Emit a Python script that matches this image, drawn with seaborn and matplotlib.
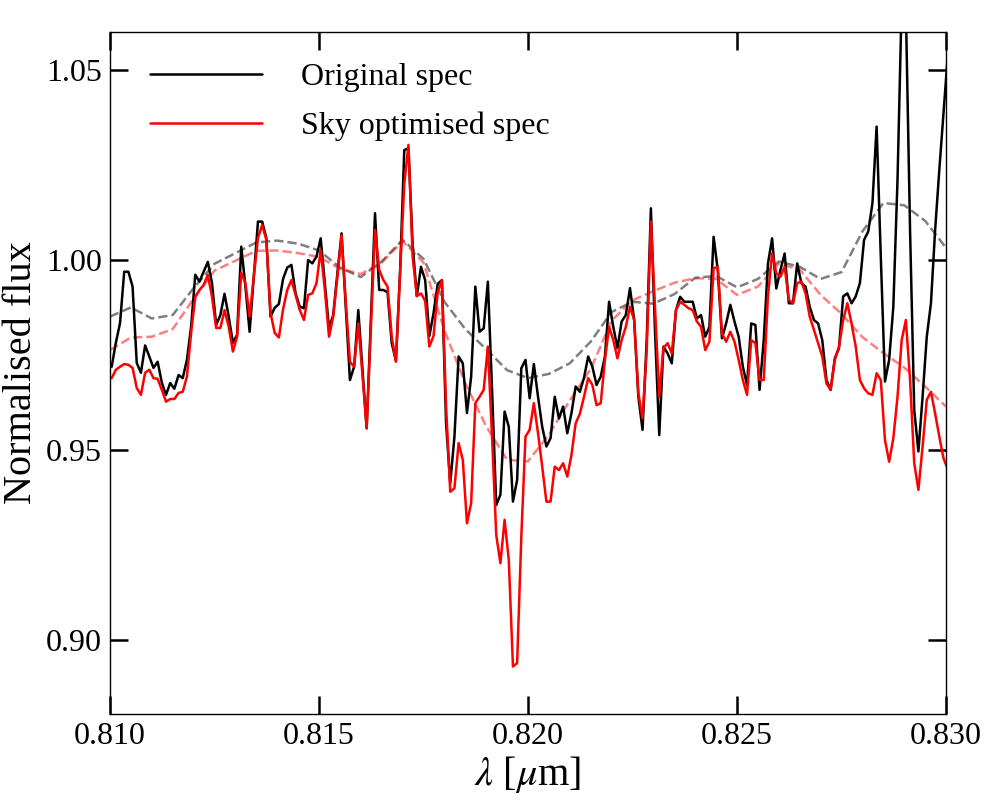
import numpy as np
import pandas as pd
import matplotlib
matplotlib.use("Agg")
import matplotlib.pyplot as plt
import seaborn as sns
from matplotlib.lines import Line2D

# ---------------- data ----------------
wl_start = 0.81004
wl_step = 0.0001

orig_flux = [
    0.9719, 0.9782, 0.9834, 0.9969, 0.9969, 0.9930, 0.9729, 0.9703, 0.9775, 0.9746,
    0.9716, 0.9732, 0.9677, 0.9645, 0.9676, 0.9661, 0.9697, 0.9689, 0.9737, 0.9824,
    0.9961, 0.9943, 0.9969, 0.9995, 0.9939, 0.9829, 0.9855, 0.9911, 0.9851, 0.9782,
    0.9803, 1.0035, 0.9930, 0.9811, 0.9956, 1.0101, 1.0101, 1.0058, 0.9851, 0.9874,
    0.9884, 0.9950, 0.9980, 0.9987, 0.9912, 0.9877, 0.9873, 1.0000, 0.9991, 1.0009,
    1.0057, 0.9939, 0.9820, 0.9855, 0.9965, 1.0070, 0.9877, 0.9684, 0.9719, 0.9868,
    0.9711, 0.9557, 0.9842, 1.0123, 0.9921, 0.9921, 0.9915, 0.9781, 0.9735, 0.9970,
    1.0289, 1.0294, 1.0040, 0.9905, 0.9982, 0.9947, 0.9800, 0.9860, 0.9937, 0.9947,
    0.9570, 0.9412, 0.9535, 0.9746, 0.9728, 0.9597, 0.9693, 0.9930, 0.9811, 0.9820,
    0.9943, 0.9658, 0.9355, 0.9382, 0.9601, 0.9561, 0.9364, 0.9421, 0.9715, 0.9737,
    0.9636, 0.9726, 0.9640, 0.9561, 0.9509, 0.9531, 0.9640, 0.9583, 0.9614, 0.9544,
    0.9597, 0.9667, 0.9653, 0.9690, 0.9746, 0.9719, 0.9671, 0.9693, 0.9746, 0.9890,
    0.9824, 0.9768, 0.9838, 0.9855, 0.9926, 0.9842, 0.9640, 0.9553, 0.9789, 1.0136,
    0.9807, 0.9539, 0.9772, 0.9754, 0.9728, 0.9868, 0.9903, 0.9890, 0.9890, 0.9890,
    0.9846, 0.9855, 0.9798, 0.9824, 1.0061, 0.9974, 0.9794, 0.9833, 0.9882, 0.9838,
    0.9798, 0.9719, 0.9671, 0.9833, 0.9829, 0.9658, 0.9790, 0.9990, 1.0057, 0.9925,
    0.9974, 1.0017, 0.9886, 0.9886, 0.9991, 0.9939, 0.9930, 0.9877, 0.9842, 0.9833,
    0.9789, 0.9684, 0.9658, 0.9741, 0.9768, 0.9904, 0.9912, 0.9886, 0.9904, 0.9939,
    1.0053, 1.0075, 1.0149, 1.0351, 1.0009, 0.9680, 0.9737, 0.9877, 1.0211, 1.0680,
    1.0660, 1.0079, 0.9605, 0.9496, 0.9640, 0.9798, 0.9886, 1.0079, 1.0237, 1.0386,
    1.0535,
]

sky_flux = [
    0.9689, 0.9711, 0.9719, 0.9726, 0.9724, 0.9716, 0.9663, 0.9645, 0.9703, 0.9711,
    0.9689, 0.9687, 0.9658, 0.9627, 0.9634, 0.9634, 0.9650, 0.9653, 0.9693, 0.9808,
    0.9903, 0.9921, 0.9934, 0.9961, 0.9903, 0.9821, 0.9821, 0.9868, 0.9824, 0.9759,
    0.9798, 0.9966, 0.9939, 0.9851, 0.9956, 1.0058, 1.0092, 1.0053, 0.9861, 0.9808,
    0.9796, 0.9870, 0.9921, 0.9947, 0.9908, 0.9868, 0.9842, 0.9908, 0.9912, 0.9939,
    1.0026, 0.9921, 0.9798, 0.9851, 0.9956, 1.0065, 0.9890, 0.9732, 0.9719, 0.9833,
    0.9697, 0.9557, 0.9816, 1.0079, 0.9974, 0.9947, 0.9930, 0.9798, 0.9732, 0.9965,
    1.0200, 1.0303, 1.0009, 0.9905, 0.9912, 0.9892, 0.9772, 0.9800, 0.9915, 0.9947,
    0.9614, 0.9390, 0.9399, 0.9518, 0.9474, 0.9307, 0.9360, 0.9623, 0.9640, 0.9658,
    0.9772, 0.9535, 0.9276, 0.9202, 0.9316, 0.9211, 0.8930, 0.8939, 0.9272, 0.9535,
    0.9553, 0.9623, 0.9544, 0.9456, 0.9364, 0.9364, 0.9456, 0.9447, 0.9465, 0.9430,
    0.9487, 0.9570, 0.9595, 0.9640, 0.9689, 0.9671, 0.9618, 0.9623, 0.9737, 0.9824,
    0.9789, 0.9741, 0.9789, 0.9824, 0.9877, 0.9842, 0.9649, 0.9583, 0.9763, 1.0101,
    0.9868, 0.9640, 0.9768, 0.9781, 0.9754, 0.9868, 0.9890, 0.9882, 0.9873, 0.9868,
    0.9838, 0.9824, 0.9763, 0.9785, 0.9978, 0.9982, 0.9807, 0.9785, 0.9811, 0.9785,
    0.9737, 0.9684, 0.9645, 0.9789, 0.9781, 0.9684, 0.9684, 0.9904, 1.0017, 0.9965,
    0.9956, 0.9982, 0.9895, 0.9886, 0.9939, 0.9943, 0.9912, 0.9851, 0.9816, 0.9781,
    0.9746, 0.9675, 0.9658, 0.9737, 0.9772, 0.9842, 0.9886, 0.9833, 0.9772, 0.9684,
    0.9662, 0.9649, 0.9645, 0.9702, 0.9684, 0.9526, 0.9469, 0.9531, 0.9640, 0.9789,
    0.9842, 0.9684, 0.9465, 0.9395, 0.9509, 0.9632, 0.9653, 0.9596, 0.9535, 0.9478,
    0.9450,
]

# smoothed continua (dashed), sampled every 0.0005 um from 0.810 to 0.830
cont_start = 0.810
cont_step = 0.0005
orig_cont = [
    0.9851, 0.9875, 0.9846, 0.9855, 0.9926, 0.9990, 1.0018, 1.0046, 1.0051, 1.0043,
    1.0025, 0.9980, 0.9955, 0.9996, 1.0053, 1.0003, 0.9890, 0.9818, 0.9765, 0.9710,
    0.9689, 0.9700, 0.9728, 0.9785, 0.9863, 0.9890, 0.9885, 0.9910, 0.9953, 0.9958,
    0.9928, 0.9950, 0.9996, 0.9982, 0.9950, 0.9968, 1.0075, 1.0150, 1.0144, 1.0103,
    1.0032,
]
sky_cont = [
    0.9763, 0.9796, 0.9798, 0.9818, 0.9898, 0.9972, 0.9998, 1.0024, 1.0025, 1.0018,
    1.0008, 0.9977, 0.9963, 0.9993, 1.0050, 0.9993, 0.9815, 0.9675, 0.9562, 0.9474,
    0.9470, 0.9540, 0.9630, 0.9713, 0.9840, 0.9894, 0.9918, 0.9940, 0.9952, 0.9950,
    0.9908, 0.9930, 0.9990, 0.9975, 0.9908, 0.9858, 0.9797, 0.9755, 0.9717, 0.9667,
    0.9614,
]

x_ticks = [0.810, 0.815, 0.820, 0.825, 0.830]
y_ticks = [0.90, 0.95, 1.00, 1.05]
labels = ["Original spec", "Sky optimised spec"]

# ---------------- build frames ----------------
wl = wl_start + wl_step * np.arange(len(orig_flux))
wl_c = cont_start + cont_step * np.arange(len(orig_cont))
df_spec = pd.DataFrame({"wl": wl, "orig": orig_flux, "sky": sky_flux})
df_cont = pd.DataFrame({"wl": wl_c, "orig": orig_cont, "sky": sky_cont})

# ---------------- style ----------------
sns.set_style("ticks")
plt.rcParams["font.family"] = ["Liberation Serif", "DejaVu Serif"]
plt.rcParams["mathtext.fontset"] = "stix"
for key in ["text.color", "axes.labelcolor", "xtick.color", "ytick.color",
            "axes.edgecolor"]:
    plt.rcParams[key] = "black"

fig = plt.figure(figsize=(9.89, 8.05), dpi=100)
ax = fig.add_axes([110 / 989, (805 - 714) / 805, (946 - 110) / 989, (714 - 32) / 805])

lw = 1.8
sns.lineplot(data=df_cont, x="wl", y="orig", ax=ax, color="k", alpha=0.5,
             linestyle="--", linewidth=lw, sort=False, estimator=None)
sns.lineplot(data=df_cont, x="wl", y="sky", ax=ax, color="r", alpha=0.5,
             linestyle="--", linewidth=lw, sort=False, estimator=None)
sns.lineplot(data=df_spec, x="wl", y="orig", ax=ax, color="k",
             linewidth=lw, sort=False, estimator=None)
sns.lineplot(data=df_spec, x="wl", y="sky", ax=ax, color="r",
             linewidth=lw, sort=False, estimator=None)

ax.set_xlim(0.810, 0.830)
ax.set_ylim(0.8805, 1.06)
ax.set_xticks(x_ticks)
ax.set_xticklabels([f"{v:.3f}" for v in x_ticks])
ax.set_yticks(y_ticks)
ax.set_yticklabels([f"{v:.2f}" for v in y_ticks])
ax.tick_params(which="major", direction="in", length=13, width=1.8,
               top=True, right=True, labelsize=23, pad=6)
ax.minorticks_off()
for s in ax.spines.values():
    s.set_linewidth(1.0)
    s.set_color("k")

ax.set_xlabel(r"$\lambda$ [$\mu$m]", fontsize=29, labelpad=2)
ax.set_ylabel("Normalised flux", fontsize=29, labelpad=4)

handles = [Line2D([], [], color="k", lw=lw), Line2D([], [], color="r", lw=lw)]
ax.legend(handles, labels, loc="upper left", frameon=False, fontsize=23,
          handlelength=3.5, handletextpad=1.2, labelspacing=0.6,
          bbox_to_anchor=(0.014, 0.997))

fig.savefig("out.png", dpi=100)
